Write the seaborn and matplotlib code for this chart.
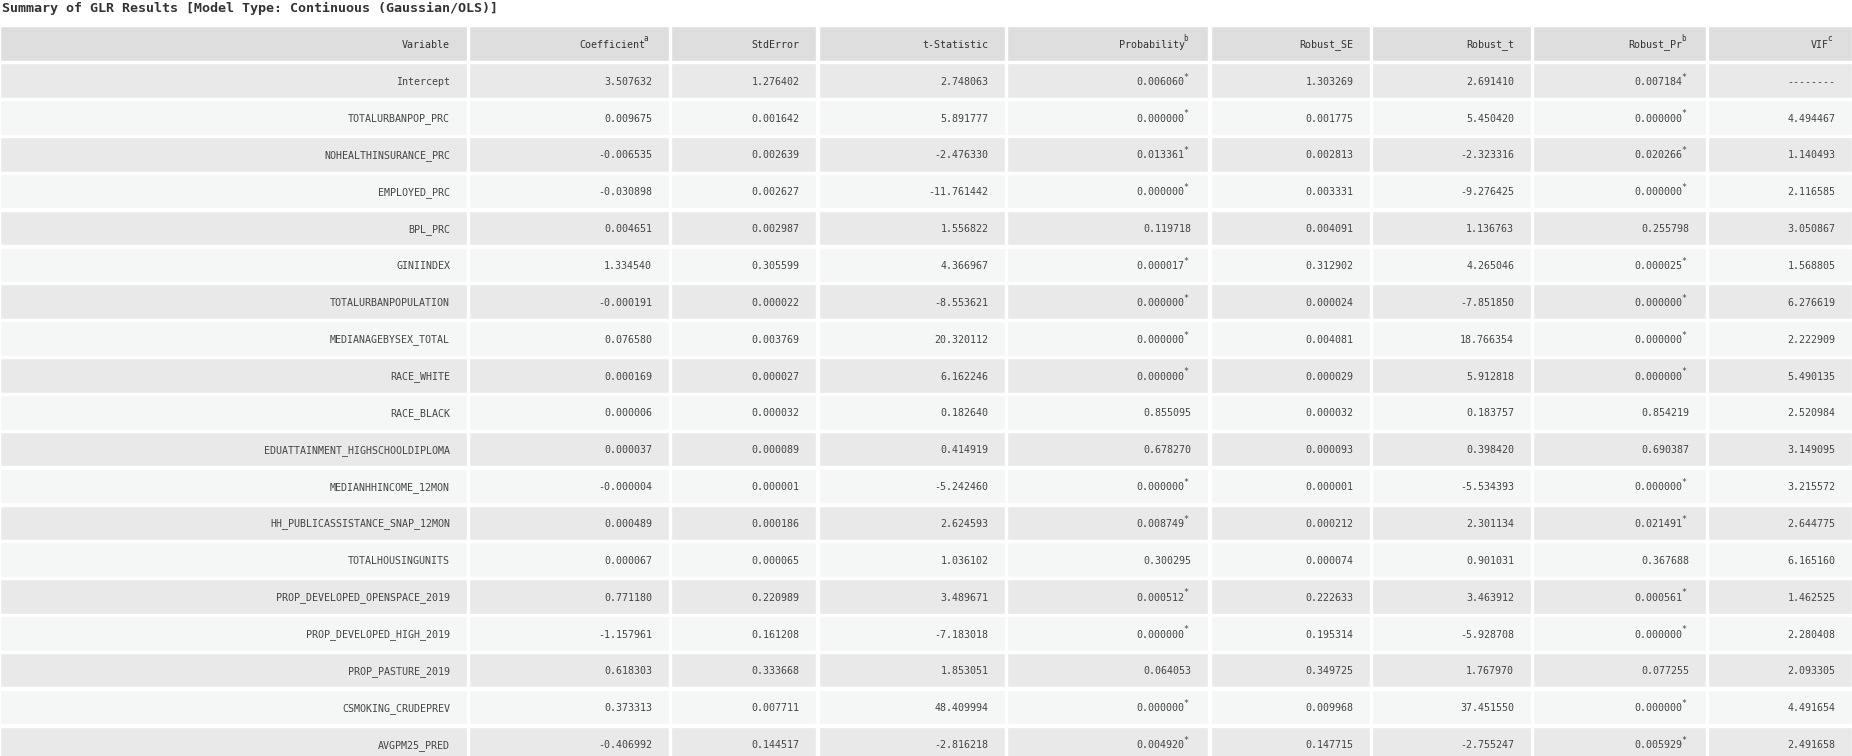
import matplotlib
matplotlib.use("Agg")
import matplotlib.pyplot as plt
import seaborn as sns
import pandas as pd

sns.set_theme(style="white")
plt.rcParams['font.family'] = ['DejaVu Sans Mono', 'DejaVu Sans']

titulo = "Summary of GLR Results [Model Type: Continuous (Gaussian/OLS)]"

columnas = ["Variable", "Coefficient", "StdError", "t-Statistic", "Probability",
            "Robust_SE", "Robust_t", "Robust_Pr", "VIF"]
super_col = {"Coefficient": "a", "Probability": "b", "Robust_Pr": "b", "VIF": "c"}

variables = ["Intercept", "TOTALURBANPOP_PRC", "NOHEALTHINSURANCE_PRC", "EMPLOYED_PRC",
             "BPL_PRC", "GINIINDEX", "TOTALURBANPOPULATION", "MEDIANAGEBYSEX_TOTAL",
             "RACE_WHITE", "RACE_BLACK", "EDUATTAINMENT_HIGHSCHOOLDIPLOMA",
             "MEDIANHHINCOME_12MON", "HH_PUBLICASSISTANCE_SNAP_12MON", "TOTALHOUSINGUNITS",
             "PROP_DEVELOPED_OPENSPACE_2019", "PROP_DEVELOPED_HIGH_2019", "PROP_PASTURE_2019",
             "CSMOKING_CRUDEPREV", "AVGPM25_PRED"]
coef = ["3.507632", "0.009675", "-0.006535", "-0.030898", "0.004651", "1.334540", "-0.000191",
        "0.076580", "0.000169", "0.000006", "0.000037", "-0.000004", "0.000489", "0.000067",
        "0.771180", "-1.157961", "0.618303", "0.373313", "-0.406992"]
stderr = ["1.276402", "0.001642", "0.002639", "0.002627", "0.002987", "0.305599", "0.000022",
          "0.003769", "0.000027", "0.000032", "0.000089", "0.000001", "0.000186", "0.000065",
          "0.220989", "0.161208", "0.333668", "0.007711", "0.144517"]
tstat = ["2.748063", "5.891777", "-2.476330", "-11.761442", "1.556822", "4.366967", "-8.553621",
         "20.320112", "6.162246", "0.182640", "0.414919", "-5.242460", "2.624593", "1.036102",
         "3.489671", "-7.183018", "1.853051", "48.409994", "-2.816218"]
prob = ["0.006060*", "0.000000*", "0.013361*", "0.000000*", "0.119718", "0.000017*", "0.000000*",
        "0.000000*", "0.000000*", "0.855095", "0.678270", "0.000000*", "0.008749*", "0.300295",
        "0.000512*", "0.000000*", "0.064053", "0.000000*", "0.004920*"]
robust_se = ["1.303269", "0.001775", "0.002813", "0.003331", "0.004091", "0.312902", "0.000024",
             "0.004081", "0.000029", "0.000032", "0.000093", "0.000001", "0.000212", "0.000074",
             "0.222633", "0.195314", "0.349725", "0.009968", "0.147715"]
robust_t = ["2.691410", "5.450420", "-2.323316", "-9.276425", "1.136763", "4.265046", "-7.851850",
            "18.766354", "5.912818", "0.183757", "0.398420", "-5.534393", "2.301134", "0.901031",
            "3.463912", "-5.928708", "1.767970", "37.451550", "-2.755247"]
robust_pr = ["0.007184*", "0.000000*", "0.020266*", "0.000000*", "0.255798", "0.000025*",
             "0.000000*", "0.000000*", "0.000000*", "0.854219", "0.690387", "0.000000*",
             "0.021491*", "0.367688", "0.000561*", "0.000000*", "0.077255", "0.000000*", "0.005929*"]
vif = ["--------", "4.494467", "1.140493", "2.116585", "3.050867", "1.568805", "6.276619",
       "2.222909", "5.490135", "2.520984", "3.149095", "3.215572", "2.644775", "6.165160",
       "1.462525", "2.280408", "2.093305", "4.491654", "2.491658"]

df = pd.DataFrame(dict(zip(columnas, [variables, coef, stderr, tstat, prob,
                                      robust_se, robust_t, robust_pr, vif])))

# bordes de columnas en pixeles de la imagen original (1568x640)
bordes = [0, 397, 568, 693, 853, 1025, 1162, 1298, 1446, 1570]
y_cab, h_cab = 22, 30
y0, h_fila = 53.6, 31.2

fig = plt.figure(figsize=(18.52, 7.56), dpi=100)
ax = fig.add_axes([0, 0, 1, 1])
ax.set_xlim(0, 1568)
ax.set_ylim(640, 0)
ax.axis("off")

fs = 7.2
ax.text(2, 7, titulo, fontsize=9.6, fontweight="bold", color="#333333", va="center", ha="left")

for j, col in enumerate(columnas):
    izq, der = bordes[j], bordes[j + 1] - 2
    xr = der - 14
    ax.barh(y_cab + h_cab / 2, der - izq, left=izq, height=h_cab, color="#dedede", align="center")
    if col in super_col:
        ax.text(xr - 6, y_cab + h_cab / 2 + 1, col, fontsize=fs, ha="right", va="center", color="#333333")
        ax.text(xr - 6.8, y_cab + h_cab / 2 - 4, super_col[col], fontsize=5.5, ha="left", va="center", color="#333333")
    else:
        ax.text(xr, y_cab + h_cab / 2 + 1, col, fontsize=fs, ha="right", va="center", color="#333333")
    for i, val in enumerate(df[col]):
        yc = y0 + i * h_fila + (h_fila - 2) / 2
        color = "#e9e9e9" if i % 2 == 0 else "#f5f7f7"
        ax.barh(yc, der - izq, left=izq, height=h_fila - 2, color=color, align="center")
        if val.endswith("*"):
            ax.text(xr - 6, yc + 1, val[:-1], fontsize=fs, ha="right", va="center", color="#444444")
            ax.text(xr - 6.8, yc - 3, "*", fontsize=6, ha="left", va="center", color="#444444")
        else:
            ax.text(xr, yc + 1, val, fontsize=fs, ha="right", va="center", color="#444444")

fig.savefig("out.png", dpi=100, facecolor="white")
